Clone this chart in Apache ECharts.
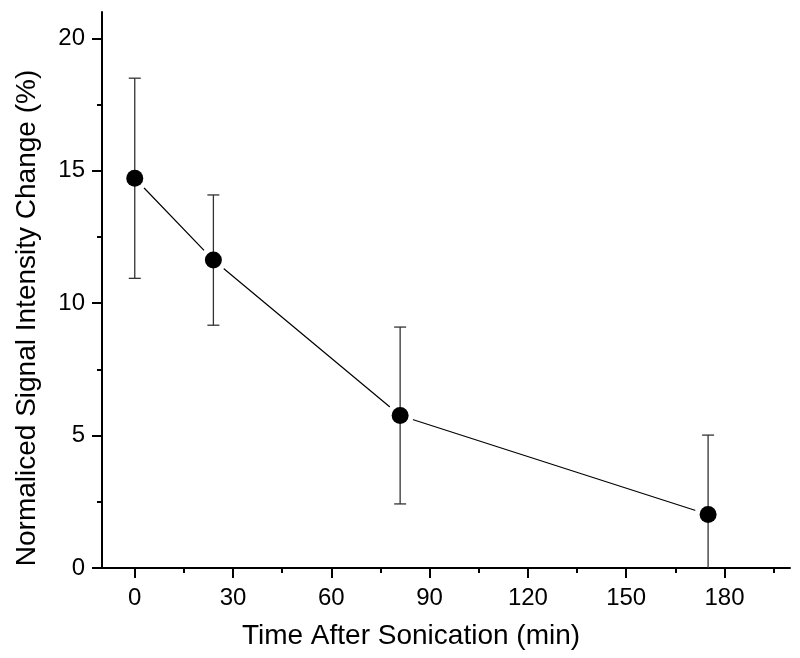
<!DOCTYPE html>
<html>
<head>
<meta charset="utf-8">
<script src="https://cdn.jsdelivr.net/npm/echarts@6/dist/echarts.min.js"></script>
<style>html,body{margin:0;padding:0;background:#fff}#c{width:800px;height:658px}</style>
</head>
<body>
<div id="c"></div>
<script>
// Data
var times = [0, 24, 81, 175];
var means = [14.72, 11.63, 5.76, 2.02];
var errors = [3.78, 2.46, 3.34, 3.0];

var xMajorTicks = [0, 30, 60, 90, 120, 150, 180];
var xMinorTicks = [15, 45, 75, 105, 135, 165, 195];
var yMajorTicks = [0, 5, 10, 15, 20];
var yMinorTicks = [2.5, 7.5, 12.5, 17.5];

var xTitle = 'Time After Sonication (min)';
var yTitle = 'Normaliced Signal Intensity Change (%)';

var X_MIN = -10, X_MAX = 200, Y_MIN = 0, Y_MAX = 21;
var FONT = '"Liberation Sans", Arial, sans-serif';

var points = times.map(function (t, i) { return [t, means[i]]; });
var bars = times.map(function (t, i) { return [t, means[i] - errors[i], means[i] + errors[i]]; });

var chart = echarts.init(document.getElementById('c'), null, { renderer: 'canvas' });

function majorAxis(isX) {
  return {
    type: 'value',
    min: isX ? X_MIN : Y_MIN,
    max: isX ? X_MAX : Y_MAX,
    position: isX ? 'bottom' : 'left',
    splitLine: { show: false },
    axisLine: { show: true, onZero: false, lineStyle: { color: '#000', width: 2 } },
    axisTick: { show: true, inside: false, length: 10, lineStyle: { color: '#000', width: 2 },
      customValues: isX ? xMajorTicks : yMajorTicks },
    axisLabel: { show: true, margin: isX ? 18 : 17, color: '#000', fontSize: 24, fontFamily: FONT,
      customValues: isX ? xMajorTicks : yMajorTicks },
    name: isX ? xTitle : yTitle,
    nameLocation: 'middle',
    nameGap: isX ? 54 : 61,
    nameTextStyle: { color: '#000', fontSize: 28, fontFamily: FONT,
      padding: isX ? [0, 70, 0, 0] : [0, 56, 0, 0] }
  };
}
function minorAxis(isX) {
  return {
    type: 'value',
    min: isX ? X_MIN : Y_MIN,
    max: isX ? X_MAX : Y_MAX,
    position: isX ? 'bottom' : 'left',
    splitLine: { show: false },
    axisLine: { show: false, onZero: false },
    axisTick: { show: true, inside: false, length: 5, lineStyle: { color: '#000', width: 2 },
      customValues: isX ? xMinorTicks : yMinorTicks },
    axisLabel: { show: false, customValues: isX ? xMinorTicks : yMinorTicks }
  };
}

chart.setOption({
  animation: false,
  backgroundColor: '#fff',
  grid: { left: 102, right: 10, top: 12, bottom: 90, containLabel: false },
  xAxis: [majorAxis(true), minorAxis(true)],
  yAxis: [majorAxis(false), minorAxis(false)],
  series: [
    {
      type: 'line',
      data: points,
      showSymbol: false,
      symbol: 'none',
      lineStyle: { color: '#000', width: 1.2 },
      z: 1
    },
    {
      // white halo that leaves a gap between the line and the markers
      type: 'scatter',
      data: points,
      symbol: 'circle',
      symbolSize: 27,
      itemStyle: { color: '#fff', opacity: 1 },
      z: 2
    },
    {
      type: 'custom',
      data: bars,
      z: 3,
      renderItem: function (params, api) {
        var x = api.value(0);
        var lo = api.value(1), hi = api.value(2);
        var loC = Math.max(lo, Y_MIN), hiC = Math.min(hi, Y_MAX);
        var pLo = api.coord([x, loC]);
        var pHi = api.coord([x, hiC]);
        var half = 6;
        var style = { stroke: '#333', lineWidth: 1.3, fill: null };
        var children = [
          { type: 'line', shape: { x1: pLo[0], y1: pLo[1], x2: pHi[0], y2: pHi[1] }, style: style }
        ];
        if (hi <= Y_MAX) children.push({ type: 'line', shape: { x1: pHi[0] - half, y1: pHi[1], x2: pHi[0] + half, y2: pHi[1] }, style: style });
        if (lo >= Y_MIN) children.push({ type: 'line', shape: { x1: pLo[0] - half, y1: pLo[1], x2: pLo[0] + half, y2: pLo[1] }, style: style });
        return { type: 'group', children: children };
      }
    },
    {
      type: 'scatter',
      data: points,
      symbol: 'circle',
      symbolSize: 17,
      itemStyle: { color: '#000', opacity: 1 },
      z: 4
    }
  ]
});
</script>
</body>
</html>
